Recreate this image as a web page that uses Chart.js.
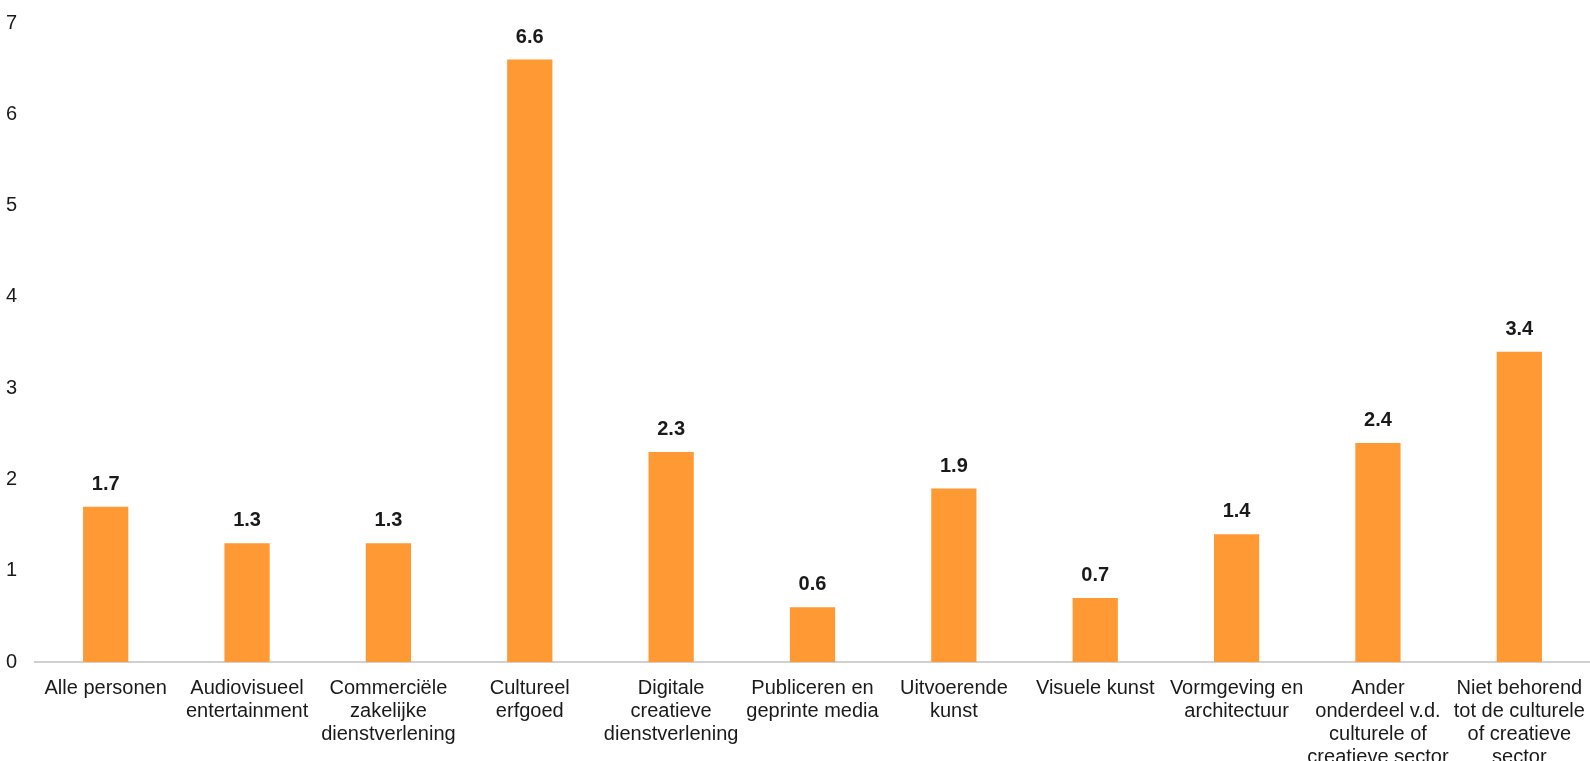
<!DOCTYPE html>
<html>
<head>
<meta charset="utf-8">
<script src="https://cdn.jsdelivr.net/npm/chart.js@4"></script>
<style>
  html, body { margin: 0; padding: 0; background: #fff; overflow: hidden; }
  #wrap { position: relative; width: 1590px; height: 784px; }
</style>
</head>
<body>
<div id="wrap"><canvas id="myChart"></canvas></div>
<script>
var categories = [
  "Alle personen",
  ["Audiovisueel", "entertainment"],
  ["Commerciële", "zakelijke", "dienstverlening"],
  ["Cultureel", "erfgoed"],
  ["Digitale", "creatieve", "dienstverlening"],
  ["Publiceren en", "geprinte media"],
  ["Uitvoerende", "kunst"],
  "Visuele kunst",
  ["Vormgeving en", "architectuur"],
  ["Ander", "onderdeel v.d.", "culturele of", "creatieve sector"],
  ["Niet behorend", "tot de culturele", "of creatieve", "sector"],
];
var values = [1.7, 1.3, 1.3, 6.6, 2.3, 0.6, 1.9, 0.7, 1.4, 2.4, 3.4];
var yTicks = [0, 1, 2, 3, 4, 5, 6, 7];

var FONT = "'Liberation Sans', Arial, sans-serif";

// number above each bar
var valueLabels = {
  id: "valueLabels",
  afterDatasetsDraw: function (chart) {
    var ctx = chart.ctx;
    var meta = chart.getDatasetMeta(0);
    ctx.save();
    ctx.font = "bold 20px " + FONT;
    ctx.fillStyle = "#1a1a1a";
    ctx.textAlign = "center";
    ctx.textBaseline = "alphabetic";
    meta.data.forEach(function (bar, i) {
      ctx.fillText(values[i].toFixed(1), bar.x, bar.y - 17);
    });
    ctx.restore();
  },
};

var data = {
  labels: categories,
  datasets: [
    {
      data: values,
      backgroundColor: "#FF9933",
      borderWidth: 0,
      barPercentage: 0.32,
      categoryPercentage: 1,
    },
  ],
};

var options = {
  responsive: true,
  maintainAspectRatio: false,
  animation: false,
  layout: {
    padding: { top: 23, left: 6, right: 0, bottom: 0 },
  },
  plugins: {
    legend: { display: false },
    tooltip: { enabled: false },
  },
  scales: {
    x: {
      grid: { display: false, drawTicks: false },
      border: { display: true, color: "#d0d0d0", width: 2 },
      // labels sit inside their category, no extra side padding needed
      afterFit: function (axis) {
        axis.paddingLeft = 0;
        axis.paddingRight = 0;
      },
      ticks: {
        color: "#1a1a1a",
        font: { family: FONT, size: 20, lineHeight: 1.15 },
        maxRotation: 0,
        autoSkip: false,
        padding: 15,
      },
    },
    y: {
      min: yTicks[0],
      max: yTicks[yTicks.length - 1],
      grid: { display: false, drawTicks: false },
      border: { display: false },
      afterBuildTicks: function (axis) {
        axis.ticks = yTicks.map(function (v) { return { value: v }; });
      },
      afterFit: function (axis) {
        axis.width = 29;
        axis.paddingTop = 0;
        axis.paddingBottom = 0;
      },
      ticks: {
        color: "#1a1a1a",
        font: { family: FONT, size: 20 },
        padding: 18,
      },
    },
  },
};

var ctx = document.getElementById("myChart").getContext("2d");
var myChart = new Chart(ctx, {
  type: "bar",
  data: data,
  options: options,
  plugins: [valueLabels],
});
</script>
</body>
</html>
